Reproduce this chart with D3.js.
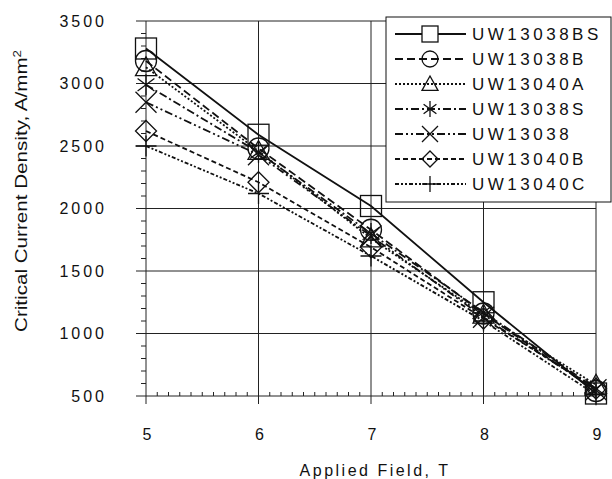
<!DOCTYPE html>
<html>
<head>
<meta charset="utf-8">
<script src="https://cdn.jsdelivr.net/npm/d3@7"></script>
<style>
  html, body { margin: 0; padding: 0; background: #fff; }
  svg text { font-family: "Liberation Sans", Arial, sans-serif; fill: #111; }
</style>
</head>
<body>
<div id="chart"></div>
<script>
// ---------- Data ----------
const fields = [5, 6, 7, 8, 9];
const seriesNames = ["UW13038BS", "UW13038B", "UW13040A", "UW13038S", "UW13038", "UW13040B", "UW13040C"];
const uw13038bs = [3280, 2590, 2020, 1250, 520];
const uw13038b  = [3180, 2480, 1830, 1160, 540];
const uw13040a  = [3130, 2460, 1760, 1150, 590];
const uw13038s  = [2990, 2450, 1800, 1170, 560];
const uw13038   = [2850, 2430, 1780, 1130, 550];
const uw13040b  = [2620, 2210, 1690, 1120, 560];
const uw13040c  = [2500, 2120, 1620, 1100, 510];
const yTicks = [500, 1000, 1500, 2000, 2500, 3000, 3500];

const seriesValues = [uw13038bs, uw13038b, uw13040a, uw13038s, uw13038, uw13040b, uw13040c];
const dashes = ["none", "8,4", "2,2", "8,3,2,3", "8,3,2,3,2,3", "5,3", "4,2,2,2,2,2"];
const symbols = ["square", "circle", "triangle", "asterisk", "cross", "diamond", "plus"];

// ---------- Layout ----------
const width = 612, height = 479;
const plot = { left: 146, right: 596, top: 21, bottom: 396 };

const svg = d3.select("#chart").append("svg")
  .attr("width", width)
  .attr("height", height);

const x = d3.scaleLinear().domain([5, 9]).range([plot.left, plot.right]);
const y = d3.scaleLinear().domain([500, 3500]).range([plot.bottom, plot.top]);

// ---------- Grid ----------
const grid = svg.append("g").attr("stroke", "#222").attr("stroke-width", 1);
grid.selectAll("line.h").data(yTicks).enter().append("line")
  .attr("x1", plot.left - 10).attr("x2", plot.right)
  .attr("y1", d => y(d)).attr("y2", d => y(d));
grid.selectAll("line.v").data(fields).enter().append("line")
  .attr("x1", d => x(d)).attr("x2", d => x(d))
  .attr("y1", plot.top).attr("y2", plot.bottom + 8);

// minor ticks
const yMinor = d3.range(600, 3500, 100).filter(v => v % 500 !== 0);
grid.selectAll("line.ym").data(yMinor).enter().append("line")
  .attr("x1", plot.left - 5).attr("x2", plot.left)
  .attr("y1", d => y(d)).attr("y2", d => y(d));
const xMinor = d3.range(51, 90, 1).map(v => v / 10).filter(v => Math.abs(v - Math.round(v)) > 0.01);
grid.selectAll("line.xm").data(xMinor).enter().append("line")
  .attr("x1", d => x(d)).attr("x2", d => x(d))
  .attr("y1", plot.bottom - 4).attr("y2", plot.bottom);

// ---------- Tick labels ----------
svg.append("g").selectAll("text").data(yTicks).enter().append("text")
  .attr("x", 107).attr("y", d => y(d))
  .attr("dy", "0.36em")
  .attr("text-anchor", "end")
  .style("font-size", "16px").style("letter-spacing", "3px")
  .text(d => d);

svg.append("g").selectAll("text").data(fields).enter().append("text")
  .attr("x", d => x(d) + 1).attr("y", 440)
  .attr("text-anchor", "middle")
  .style("font-size", "16px")
  .text(d => d);

// ---------- Axis titles ----------
svg.append("text")
  .attr("x", 375).attr("y", 476)
  .attr("text-anchor", "middle")
  .style("font-size", "16px").style("letter-spacing", "2.5px")
  .text("Applied Field, T");

svg.append("text")
  .attr("transform", "translate(27,191) rotate(-90)")
  .attr("text-anchor", "middle")
  .attr("textLength", 282).attr("lengthAdjust", "spacingAndGlyphs")
  .style("font-size", "17px")
  .html("Critical Current Density, A/mm<tspan dy='-6' font-size='11'>2</tspan>");

// ---------- Symbols ----------
function drawSymbol(g, type, cx, cy, s) {
  const h = s / 2;
  const st = sel => sel.attr("fill", "none").attr("stroke", "#111").attr("stroke-width", 1.3);
  if (type === "square") {
    st(g.append("rect").attr("x", cx - h).attr("y", cy - h).attr("width", s).attr("height", s));
  } else if (type === "circle") {
    st(g.append("circle").attr("cx", cx).attr("cy", cy).attr("r", h));
  } else if (type === "triangle") {
    st(g.append("path").attr("d", `M${cx},${cy - h}L${cx + h},${cy + h * 0.8}L${cx - h},${cy + h * 0.8}Z`));
  } else if (type === "diamond") {
    st(g.append("path").attr("d", `M${cx},${cy - h}L${cx + h},${cy}L${cx},${cy + h}L${cx - h},${cy}Z`));
  } else if (type === "cross") {
    st(g.append("path").attr("d", `M${cx - h},${cy - h}L${cx + h},${cy + h}M${cx + h},${cy - h}L${cx - h},${cy + h}`));
  } else if (type === "asterisk") {
    st(g.append("path").attr("d", `M${cx - h * 0.8},${cy - h * 0.6}L${cx + h * 0.8},${cy + h * 0.6}M${cx + h * 0.8},${cy - h * 0.6}L${cx - h * 0.8},${cy + h * 0.6}M${cx},${cy - h}L${cx},${cy + h}`));
  } else if (type === "plus") {
    st(g.append("path").attr("d", `M${cx - h},${cy}L${cx + h},${cy}M${cx},${cy - h}L${cx},${cy + h}`));
  }
}

// ---------- Series ----------
const line = d3.line().x((d, i) => x(fields[i])).y(d => y(d));

seriesValues.forEach((vals, k) => {
  const g = svg.append("g");
  g.append("path")
    .attr("d", line(vals))
    .attr("fill", "none")
    .attr("stroke", "#111")
    .attr("stroke-width", 1.8)
    .attr("stroke-dasharray", dashes[k]);
  vals.forEach((v, i) => drawSymbol(g, symbols[k], x(fields[i]), y(v), 21));
});

// ---------- Legend ----------
const legend = svg.append("g");
legend.append("rect")
  .attr("x", 386).attr("y", 17).attr("width", 225).attr("height", 185)
  .attr("fill", "#fff").attr("stroke", "#111").attr("stroke-width", 1);

seriesNames.forEach((name, k) => {
  const ly = 34 + k * 25;
  legend.append("line")
    .attr("x1", 395).attr("x2", 466).attr("y1", ly).attr("y2", ly)
    .attr("stroke", "#111").attr("stroke-width", 1.8)
    .attr("stroke-dasharray", dashes[k]);
  if (symbols[k] === "square") {
    legend.append("rect").attr("x", 422).attr("y", ly - 8).attr("width", 16).attr("height", 16).attr("fill", "#fff");
  }
  drawSymbol(legend, symbols[k], 430, ly, 16);
  legend.append("text")
    .attr("x", 472).attr("y", ly)
    .attr("dy", "0.36em")
    .style("font-size", "17px").style("letter-spacing", "3.5px")
    .text(name);
});
</script>
</body>
</html>
